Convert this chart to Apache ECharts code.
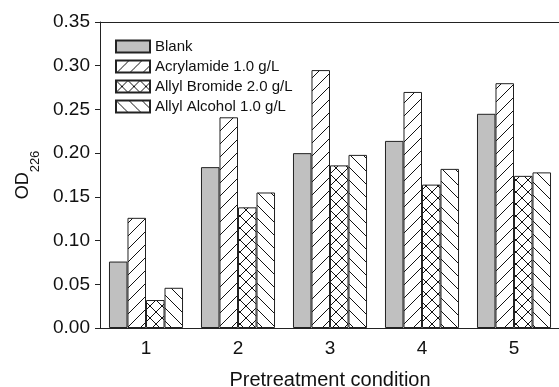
<!DOCTYPE html>
<html>
<head>
<meta charset="utf-8">
<script src="https://cdn.jsdelivr.net/npm/echarts@6/dist/echarts.min.js"></script>
<style>html,body{margin:0;padding:0;background:#fff;}#c{width:559px;height:387px;}</style>
</head>
<body>
<div id="c"></div>
<script>
const categories = ['1', '2', '3', '4', '5'];
const seriesNames = ['Blank', 'Acrylamide 1.0 g/L', 'Allyl Bromide 2.0 g/L', 'Allyl Alcohol 1.0 g/L'];
const blank = [0.076, 0.184, 0.200, 0.214, 0.245];
const acrylamide = [0.126, 0.241, 0.295, 0.270, 0.280];
const allylBromide = [0.032, 0.138, 0.186, 0.164, 0.174];
const allylAlcohol = [0.046, 0.155, 0.198, 0.182, 0.178];
const yTicks = [0, 0.05, 0.10, 0.15, 0.20, 0.25, 0.30, 0.35];

function pattern(kind, S) {
  const c = document.createElement('canvas');
  c.width = S; c.height = S;
  const g = c.getContext('2d');
  g.fillStyle = '#fff';
  g.fillRect(0, 0, S, S);
  g.strokeStyle = '#111';
  g.lineWidth = 1;
  function line(x1, y1, x2, y2) { g.beginPath(); g.moveTo(x1, y1); g.lineTo(x2, y2); g.stroke(); }
  if (kind === 'fwd' || kind === 'cross') {
    line(-1, S + 1, S + 1, -1);
    line(-S - 1, S + 1, 1, -1);
    line(S - 1, S + 1, 2 * S + 1, -1);
  }
  if (kind === 'back' || kind === 'cross') {
    line(-1, -1, S + 1, S + 1);
    line(-S - 1, -1, 1, S + 1);
    line(S - 1, -1, 2 * S + 1, S + 1);
  }
  return { image: c, repeat: 'repeat' };
}

const fills = ['#c0c0c0', pattern('fwd', 13), pattern('cross', 12), pattern('back', 13)];
const values = [blank, acrylamide, allylBromide, allylAlcohol];

const chart = echarts.init(document.getElementById('c'), null, { renderer: 'canvas' });
const font = 'Arial, "Liberation Sans", sans-serif';
chart.setOption({
  animation: false,
  grid: { left: 100, top: 22, width: 460, height: 306, containLabel: false, outerBoundsMode: 'none' },
  legend: {
    orient: 'vertical', left: 110, top: 34,
    icon: 'rect',
    itemWidth: 34, itemHeight: 12, itemGap: 5,
    data: seriesNames,
    textStyle: { fontFamily: font, fontSize: 15, color: '#111', padding: [0, 0, 0, 0] }
  },
  xAxis: [{
    type: 'category', data: categories, position: 'bottom',
    axisLine: { lineStyle: { color: '#222', width: 1 } },
    axisTick: { show: false },
    axisLabel: { fontFamily: font, fontSize: 19, color: '#111', margin: 11 },
    name: 'Pretreatment condition', nameLocation: 'middle', nameGap: 42,
    nameTextStyle: { fontFamily: font, fontSize: 20, color: '#111' }
  }, {
    type: 'category', data: categories, position: 'top',
    axisLine: { lineStyle: { color: '#222', width: 1 } },
    axisTick: { show: false }, axisLabel: { show: false }
  }],
  yAxis: {
    type: 'value', min: 0, max: 0.35, interval: 0.05,
    axisLine: { show: true, lineStyle: { color: '#222', width: 1 } },
    axisTick: { show: true, inside: false, length: 5, lineStyle: { color: '#222' } },
    splitLine: { show: false },
    axisLabel: { fontFamily: font, fontSize: 19, color: '#111', margin: 10,
      formatter: v => { const t = yTicks.find(x => Math.abs(x - v) < 1e-9); return (t !== undefined ? t : v).toFixed(2); } },
    name: '{m|OD}{s|226}', nameLocation: 'middle', nameGap: 64, nameRotate: 90,
    nameTextStyle: { fontFamily: font, fontSize: 18, color: '#111',
      rich: {
        m: { fontFamily: font, fontSize: 18, lineHeight: 18, color: '#111', verticalAlign: 'top' },
        s: { fontFamily: font, fontSize: 13, lineHeight: 13, color: '#111', verticalAlign: 'top', padding: [15, 0, 0, 0] }
      } }
  },
  series: seriesNames.map((n, i) => ({
    name: n, type: 'bar', data: values[i], xAxisIndex: 0,
    barGap: '0%', barCategoryGap: '19.5%',
    itemStyle: { color: fills[i], borderColor: '#222', borderWidth: 1 }
  }))
});
</script>
</body>
</html>
